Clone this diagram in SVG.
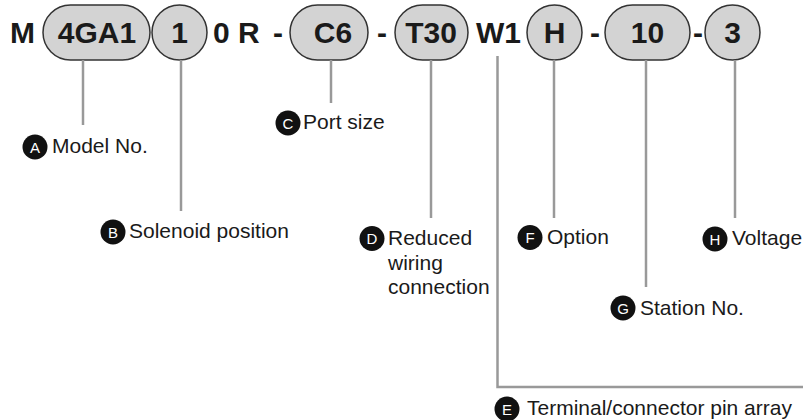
<svg xmlns="http://www.w3.org/2000/svg" width="803" height="420" viewBox="0 0 803 420">
<style>
.code{font-family:"Liberation Sans",Arial,sans-serif;font-weight:bold;font-size:30px;fill:#1a1a1a}
.mid{text-anchor:middle}
.pill{fill:#d3d3d3;stroke:#333;stroke-width:1.5}
.lbl{font-family:"Liberation Sans",Arial,sans-serif;font-size:21px;fill:#1a1a1a}
.bad{fill:#111}
.bl{font-family:"Liberation Sans",Arial,sans-serif;font-size:15px;fill:#fff;text-anchor:middle}
.con{fill:none;stroke:#999;stroke-width:2.5}
</style>
<rect width="803" height="420" fill="#fff"/>
<g id="code">
<text class="code" x="10" y="43">M</text>
<text class="code" x="213" y="43">0 R</text>
<text class="code mid" x="278" y="43">-</text>
<text class="code mid" x="382" y="43">-</text>
<text class="code" x="476" y="43">W1</text>
<text class="code mid" x="595" y="43">-</text>
<text class="code mid" x="698" y="43">-</text>
</g>
<g id="pill-4GA1"><rect class="pill" x="43" y="5" width="107" height="55" rx="27.5"/><text class="code mid" x="97" y="43">4GA1</text></g>
<g id="pill-1"><circle class="pill" cx="179.5" cy="32.5" r="27.5"/><text class="code mid" x="179.5" y="43">1</text></g>
<g id="pill-C6"><rect class="pill" x="290" y="5" width="78" height="55" rx="27.5"/><text class="code mid" x="333" y="43">C6</text></g>
<g id="pill-T30"><rect class="pill" x="395" y="5" width="73" height="55" rx="27.5"/><text class="code mid" x="431" y="43">T30</text></g>
<g id="pill-H"><circle class="pill" cx="554.5" cy="32.5" r="27.5"/><text class="code mid" x="554.5" y="43">H</text></g>
<g id="pill-10"><rect class="pill" x="605" y="5" width="85" height="55" rx="27.5"/><text class="code mid" x="647.5" y="43">10</text></g>
<g id="pill-3"><circle class="pill" cx="732.5" cy="32.5" r="27.5"/><text class="code mid" x="732.5" y="43">3</text></g>
<g id="connectors">
<line class="con" x1="83" y1="60" x2="83" y2="125"/>
<line class="con" x1="181" y1="60" x2="181" y2="211"/>
<line class="con" x1="331" y1="60" x2="331" y2="103"/>
<line class="con" x1="431" y1="60" x2="431" y2="218"/>
<polyline class="con" points="497.5,56 497.5,387 803,387"/>
<line class="con" x1="554" y1="60" x2="554" y2="218"/>
<line class="con" x1="646" y1="60" x2="646" y2="287"/>
<line class="con" x1="735" y1="60" x2="735" y2="218"/>
</g>
<g id="label-A"><circle class="bad" cx="35" cy="147" r="12.5"/><text class="bl" x="35" y="152.5">A</text><text class="lbl" x="52" y="153">Model No.</text></g>
<g id="label-B"><circle class="bad" cx="113" cy="232" r="12.5"/><text class="bl" x="113" y="237.5">B</text><text class="lbl" x="129" y="238">Solenoid position</text></g>
<g id="label-C"><circle class="bad" cx="288" cy="123" r="12.5"/><text class="bl" x="288" y="128.5">C</text><text class="lbl" x="303" y="129">Port size</text></g>
<g id="label-D"><circle class="bad" cx="372" cy="238.5" r="12.5"/><text class="bl" x="372" y="244">D</text><text class="lbl" x="388" y="245">Reduced<tspan x="388" y="270">wiring</tspan><tspan x="388" y="294">connection</tspan></text></g>
<g id="label-E"><circle class="bad" cx="507" cy="409" r="12.5"/><text class="bl" x="507" y="414.5">E</text><text class="lbl" x="527" y="415">Terminal/connector pin array</text></g>
<g id="label-F"><circle class="bad" cx="530" cy="237.5" r="12.5"/><text class="bl" x="530" y="243">F</text><text class="lbl" x="547" y="244">Option</text></g>
<g id="label-G"><circle class="bad" cx="623" cy="308" r="12.5"/><text class="bl" x="623" y="313.5">G</text><text class="lbl" x="640" y="315">Station No.</text></g>
<g id="label-H"><circle class="bad" cx="715" cy="239" r="12.5"/><text class="bl" x="715" y="244.5">H</text><text class="lbl" x="732" y="245">Voltage</text></g>
</svg>
